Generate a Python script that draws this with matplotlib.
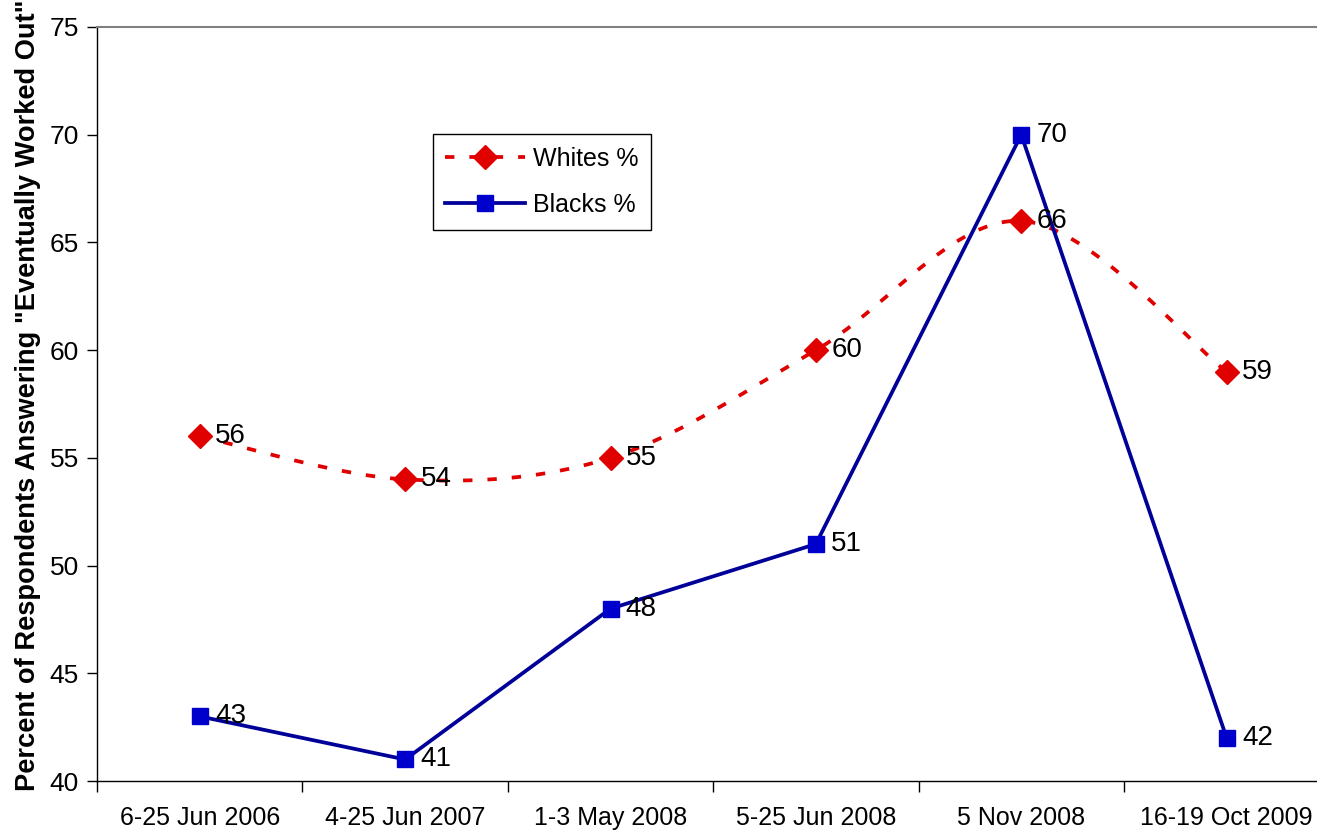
import numpy as np
import matplotlib.pyplot as plt

plt.rcParams['font.family'] = ['Liberation Sans', 'DejaVu Sans']

surveys = ['6-25 Jun 2006', '4-25 Jun 2007', '1-3 May 2008',
           '5-25 Jun 2008', '5 Nov 2008', '16-19 Oct 2009']
whites = [56, 54, 55, 60, 66, 59]
blacks = [43, 41, 48, 51, 70, 42]

red = '#E00000'
navy = '#000099'
blue = '#0000CC'


def smooth(xs, ys, n=40):
    # catmull-rom curve through the points, like a spreadsheet "smoothed line"
    px = np.r_[xs[0], xs, xs[-1]].astype(float)
    py = np.r_[ys[0], ys, ys[-1]].astype(float)
    t = np.linspace(0, 1, n)
    ox, oy = [], []
    for i in range(1, len(px) - 2):
        for p, out in ((px, ox), (py, oy)):
            p0, p1, p2, p3 = p[i - 1], p[i], p[i + 1], p[i + 2]
            out.extend(0.5 * (2 * p1 + (-p0 + p2) * t
                              + (2 * p0 - 5 * p1 + 4 * p2 - p3) * t ** 2
                              + (-p0 + 3 * p1 - 3 * p2 + p3) * t ** 3))
    return np.array(ox), np.array(oy)


fig = plt.figure(figsize=(13.17, 8.33), dpi=100)
ax = fig.add_axes([0.0737, 0.0624, 0.9263, 0.9052])

x = np.arange(len(surveys))
dash = (0, (2.5, 4))
sx, sy = smooth(x, whites)
ax.plot(sx, sy, color=red, lw=2.7, ls=dash, solid_capstyle='butt')
ax.plot(x, whites, ls='none', marker='D', ms=12, color=red, mec=red)
ax.plot([], [], color=red, lw=2.7, ls=dash, marker='D', ms=12,
        label='Whites %')
ax.plot(x, blacks, color=navy, lw=2.7, marker='s', ms=11.5, mfc=blue, mec=blue,
        label='Blacks %')

for xi, v in zip(x, whites):
    ax.annotate(str(v), (xi, v), xytext=(11, 0), textcoords='offset points',
                va='center', ha='left', fontsize=20)
for xi, v in zip(x, blacks):
    ax.annotate(str(v), (xi, v), xytext=(11, 0), textcoords='offset points',
                va='center', ha='left', fontsize=20)

ax.set_xlim(-0.5, 5.44)
ax.set_ylim(40, 75)
ax.set_yticks(range(40, 76, 5))
ax.set_xticks(x)
ax.set_xticklabels(surveys)
ax.set_xticks(np.arange(-0.5, 5.5, 1), minor=True)
ax.tick_params(axis='x', which='major', length=0, pad=18, labelsize=18)
ax.tick_params(axis='x', which='minor', length=8, width=1)
ax.tick_params(axis='y', length=7, width=1, pad=6, labelsize=19)

ax.spines['right'].set_visible(False)
ax.spines['top'].set_color('#808080')
ax.spines['top'].set_linewidth(1.5)
for s in ('left', 'bottom'):
    ax.spines[s].set_linewidth(1)

ax.set_ylabel('Percent of Respondents Answering "Eventually Worked Out"',
              fontsize=19.6, fontweight='bold', labelpad=6)
ax.yaxis.label.set_y(0.511)

leg = ax.legend(loc='upper left', bbox_to_anchor=(0.275, 0.858),
                borderaxespad=0, fontsize=18, fancybox=False, framealpha=1,
                edgecolor='black', handlelength=3.2, handletextpad=0.3,
                borderpad=0.5, labelspacing=0.9)
leg.get_frame().set_linewidth(1)

fig.savefig('out.png', dpi=100)
